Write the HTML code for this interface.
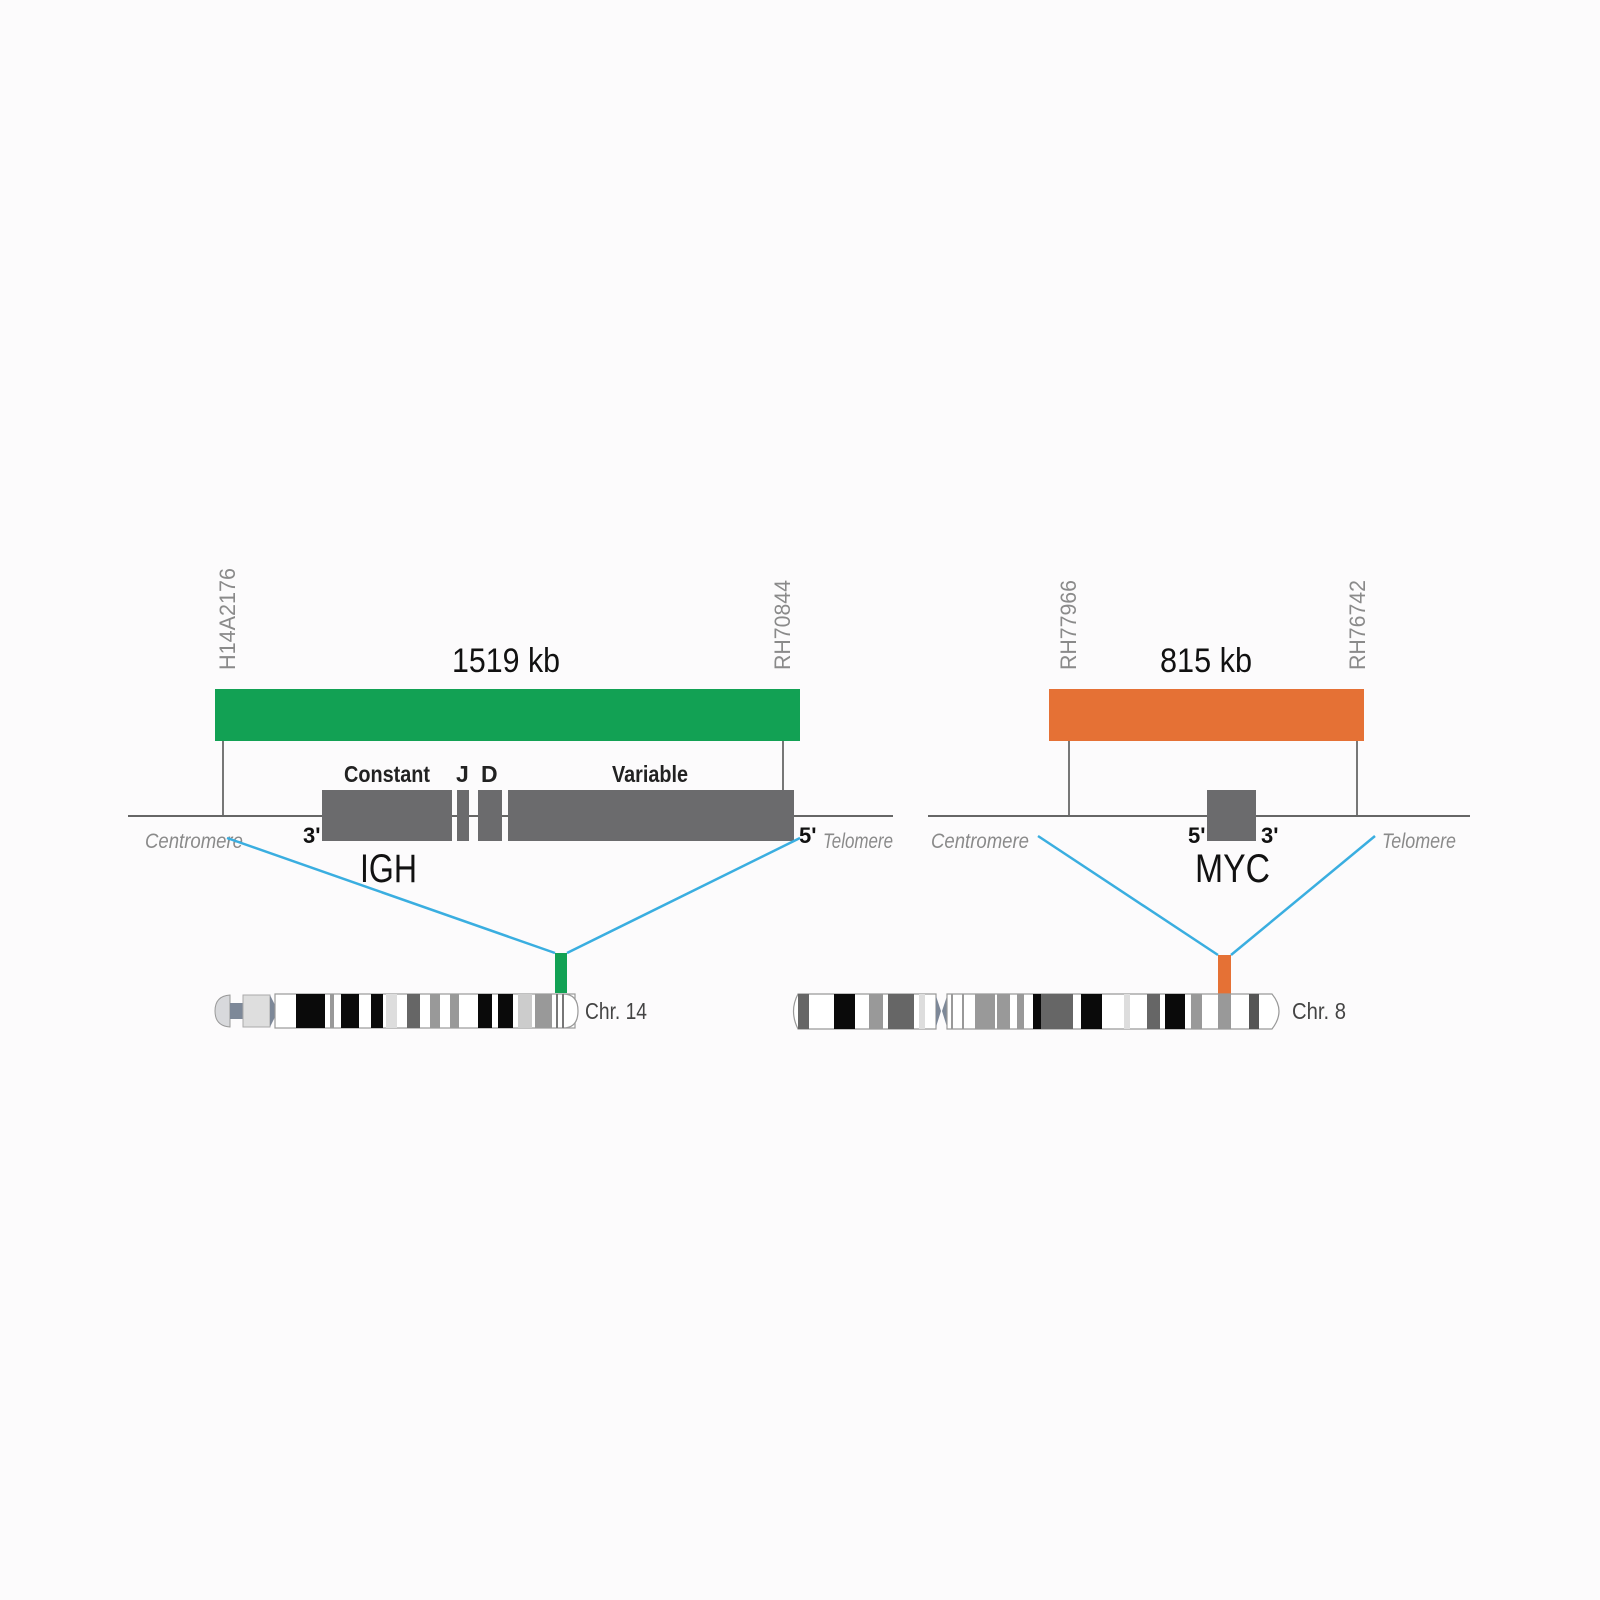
<!DOCTYPE html>
<html><head><meta charset="utf-8"><style>
html,body{margin:0;padding:0;background:#fcfbfc;}
svg{display:block}
text{font-family:"Liberation Sans Narrow","Liberation Sans",sans-serif;}
</style></head><body>
<svg width="1600" height="1600" viewBox="0 0 1600 1600" xmlns="http://www.w3.org/2000/svg">
<rect width="1600" height="1600" fill="#fcfbfc"/>

<!-- LEFT: IGH -->
<text x="0" y="0" transform="translate(235,670) rotate(-90)" font-size="22" fill="#8a8a8a" textLength="102" lengthAdjust="spacingAndGlyphs">H14A2176</text>
<text x="0" y="0" transform="translate(790,670) rotate(-90)" font-size="22" fill="#8a8a8a" textLength="90" lengthAdjust="spacingAndGlyphs">RH70844</text>
<text x="452" y="672" font-size="34" fill="#111" textLength="108" lengthAdjust="spacingAndGlyphs">1519 kb</text>
<rect x="215" y="689" width="585" height="52" fill="#12a154"/>
<line x1="223" y1="741" x2="223" y2="816" stroke="#777" stroke-width="2"/>
<line x1="783" y1="741" x2="783" y2="816" stroke="#777" stroke-width="2"/>
<line x1="128" y1="816" x2="893" y2="816" stroke="#666" stroke-width="2"/>
<rect x="322" y="790" width="130" height="51" fill="#6b6b6d"/>
<rect x="457" y="790" width="12" height="51" fill="#6b6b6d"/>
<rect x="478" y="790" width="24" height="51" fill="#6b6b6d"/>
<rect x="508" y="790" width="286" height="51" fill="#6b6b6d"/>
<text x="344" y="782" font-size="23" font-weight="bold" fill="#222" textLength="86" lengthAdjust="spacingAndGlyphs">Constant</text>
<text x="456" y="782" font-size="23" font-weight="bold" fill="#222">J</text>
<text x="481" y="782" font-size="23" font-weight="bold" fill="#222">D</text>
<text x="612" y="782" font-size="23" font-weight="bold" fill="#222" textLength="76" lengthAdjust="spacingAndGlyphs">Variable</text>
<text x="303" y="843" font-size="22" font-weight="bold" fill="#111">3'</text>
<text x="799" y="843" font-size="22" font-weight="bold" fill="#111">5'</text>
<text x="145" y="848" font-size="21" font-style="italic" fill="#8a8a8a" textLength="98" lengthAdjust="spacingAndGlyphs">Centromere</text>
<text x="823" y="848" font-size="21" font-style="italic" fill="#8a8a8a" textLength="70" lengthAdjust="spacingAndGlyphs">Telomere</text>
<text x="360" y="882" font-size="40" fill="#111" textLength="57" lengthAdjust="spacingAndGlyphs">IGH</text>
<polyline points="227,838 555,953" fill="none" stroke="#3aaee0" stroke-width="2.5"/>
<polyline points="800,838 567,953" fill="none" stroke="#3aaee0" stroke-width="2.5"/>
<rect x="555" y="953" width="12" height="40" fill="#12a154"/>

<!-- Chr 14 -->
<g>
<path d="M230,995 Q215,996 215,1011 Q215,1026 230,1027 Z" fill="#d8d9dc" stroke="#999" stroke-width="1"/>
<rect x="230" y="1003" width="13" height="16" fill="#7d8898"/>
<rect x="243" y="995" width="27" height="32" fill="#dedede" stroke="#aaa" stroke-width="1"/>
<path d="M270,995 L275,1005 L275,1017 L270,1027 Z" fill="#7d8898"/>
<rect x="275" y="994" width="300" height="34" rx="0" fill="#fff" stroke="#999" stroke-width="1.2"/>
<path d="M563,994 Q578,994 578,1011 Q578,1028 563,1028" fill="#fff" stroke="#999" stroke-width="1.2"/>
<rect x="296" y="994" width="29" height="34" fill="#0a0a0a"/>
<rect x="330" y="994" width="4" height="34" fill="#999"/>
<rect x="341" y="994" width="18" height="34" fill="#0a0a0a"/>
<rect x="371" y="994" width="12" height="34" fill="#0a0a0a"/>
<rect x="386" y="994" width="11" height="34" fill="#ddd"/>
<rect x="407" y="994" width="13" height="34" fill="#666"/>
<rect x="430" y="994" width="10" height="34" fill="#999"/>
<rect x="450" y="994" width="9" height="34" fill="#999"/>
<rect x="478" y="994" width="14" height="34" fill="#0a0a0a"/>
<rect x="498" y="994" width="15" height="34" fill="#0a0a0a"/>
<rect x="518" y="994" width="14" height="34" fill="#ccc"/>
<rect x="535" y="994" width="17" height="34" fill="#999"/>
<rect x="556" y="994" width="2" height="34" fill="#777"/>
<rect x="562" y="994" width="2" height="34" fill="#777"/>
</g>
<text x="585" y="1019" font-size="23" fill="#444" textLength="62" lengthAdjust="spacingAndGlyphs">Chr. 14</text>

<!-- RIGHT: MYC -->
<text x="0" y="0" transform="translate(1076,670) rotate(-90)" font-size="22" fill="#8a8a8a" textLength="90" lengthAdjust="spacingAndGlyphs">RH77966</text>
<text x="0" y="0" transform="translate(1365,670) rotate(-90)" font-size="22" fill="#8a8a8a" textLength="90" lengthAdjust="spacingAndGlyphs">RH76742</text>
<text x="1160" y="672" font-size="34" fill="#111" textLength="92" lengthAdjust="spacingAndGlyphs">815 kb</text>
<rect x="1049" y="689" width="315" height="52" fill="#e57135"/>
<line x1="1069" y1="741" x2="1069" y2="816" stroke="#777" stroke-width="2"/>
<line x1="1357" y1="741" x2="1357" y2="816" stroke="#777" stroke-width="2"/>
<line x1="928" y1="816" x2="1470" y2="816" stroke="#666" stroke-width="2"/>
<rect x="1207" y="790" width="49" height="51" fill="#6b6b6d"/>
<text x="1188" y="843" font-size="22" font-weight="bold" fill="#111">5'</text>
<text x="1261" y="843" font-size="22" font-weight="bold" fill="#111">3'</text>
<text x="931" y="848" font-size="21" font-style="italic" fill="#8a8a8a" textLength="98" lengthAdjust="spacingAndGlyphs">Centromere</text>
<text x="1382" y="848" font-size="21" font-style="italic" fill="#8a8a8a" textLength="74" lengthAdjust="spacingAndGlyphs">Telomere</text>
<text x="1195" y="882" font-size="40" fill="#111" textLength="75" lengthAdjust="spacingAndGlyphs">MYC</text>
<polyline points="1038,836 1218,955" fill="none" stroke="#3aaee0" stroke-width="2.5"/>
<polyline points="1375,836 1231,955" fill="none" stroke="#3aaee0" stroke-width="2.5"/>
<rect x="1218" y="955" width="13" height="39" fill="#e57135"/>

<!-- Chr 8 -->
<g>
<path d="M798,994 L936,994 L936,1029 L798,1029 Q789,1011 798,994 Z" fill="#fff" stroke="#999" stroke-width="1.2"/>
<rect x="798" y="994" width="11" height="35" fill="#666"/>
<rect x="834" y="994" width="21" height="35" fill="#0a0a0a"/>
<rect x="869" y="994" width="14" height="35" fill="#999"/>
<rect x="888" y="994" width="26" height="35" fill="#666"/>
<rect x="919" y="994" width="6" height="35" fill="#ddd"/>
<path d="M936,996 L941,1011 L936,1027 Z M947,996 L942,1011 L947,1027 Z" fill="#7d8898"/>
<path d="M947,994 L1272,994 Q1286,1011 1272,1029 L947,1029 Z" fill="#fff" stroke="#999" stroke-width="1.2"/>
<rect x="951" y="994" width="2" height="35" fill="#999"/>
<rect x="962" y="994" width="2" height="35" fill="#999"/>
<rect x="975" y="994" width="20" height="35" fill="#999"/>
<rect x="997" y="994" width="13" height="35" fill="#999"/>
<rect x="1017" y="994" width="7" height="35" fill="#999"/>
<rect x="1033" y="994" width="8" height="35" fill="#0a0a0a"/>
<rect x="1041" y="994" width="32" height="35" fill="#666"/>
<rect x="1081" y="994" width="21" height="35" fill="#0a0a0a"/>
<rect x="1124" y="994" width="6" height="35" fill="#ddd"/>
<rect x="1147" y="994" width="13" height="35" fill="#666"/>
<rect x="1165" y="994" width="20" height="35" fill="#0a0a0a"/>
<rect x="1191" y="994" width="11" height="35" fill="#999"/>
<rect x="1218" y="994" width="13" height="35" fill="#999"/>
<rect x="1249" y="994" width="10" height="35" fill="#555"/>
</g>
<text x="1292" y="1019" font-size="23" fill="#444" textLength="54" lengthAdjust="spacingAndGlyphs">Chr. 8</text>
</svg>
</body></html>
